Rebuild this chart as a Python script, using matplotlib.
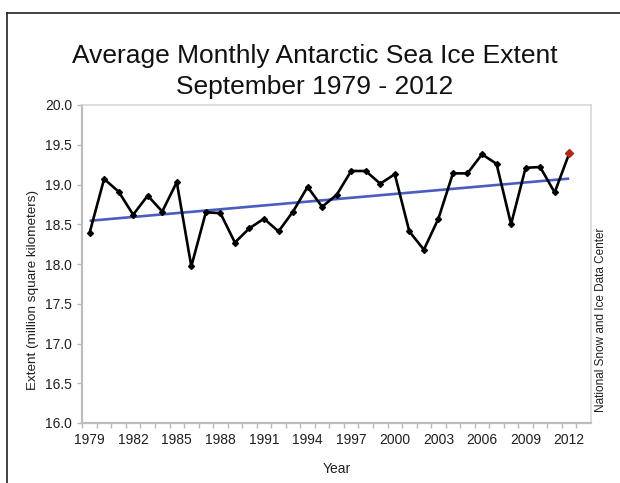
import numpy as np
import matplotlib
matplotlib.use("Agg")
import matplotlib.pyplot as plt
from matplotlib.lines import Line2D

plt.rcParams['font.family'] = ['Liberation Sans', 'DejaVu Sans']

# September Antarctic sea ice extent (million km^2)
years = np.arange(1979, 2013)
extent = [18.39, 19.07, 18.91, 18.62, 18.86, 18.66, 19.03, 17.97, 18.65, 18.64,
          18.27, 18.45, 18.57, 18.41, 18.66, 18.97, 18.72, 18.87, 19.17, 19.17,
          19.01, 19.13, 18.41, 18.18, 18.57, 19.14, 19.14, 19.38, 19.26, 18.50,
          19.21, 19.22, 18.90, 19.39]
year_ticks = list(range(1979, 2013, 3))
y_ticks = np.arange(16.0, 20.01, 0.5)

title_lines = ["Average Monthly Antarctic Sea Ice Extent", "September 1979 - 2012"]
credit = "National Snow and Ice Data Center"

W, H = 620, 483
fig = plt.figure(figsize=(W / 100, H / 100), dpi=100)
ax = fig.add_axes([82.3 / W, 1 - 423 / H, (591 - 82.3) / W, (423 - 105) / H])

# linear trend
slope, intercept = np.polyfit(years, extent, 1)
trend = slope * years + intercept
ax.plot(years, trend, color='#4a5cc0', lw=1.9, solid_capstyle='butt', zorder=2)

# yearly series
ax.plot(years[:-1], extent[:-1], color='black', lw=1.9, marker='D', ms=3.0,
        zorder=3)
ax.plot(years[-2:], extent[-2:], color='black', lw=1.9, zorder=3)
ax.plot(years[-1:], extent[-1:], ls='none', marker='D', ms=4.2,
        color='#b3261e', mec='#b3261e', zorder=4)

ax.set_xlim(1978.5, 2013.5)
ax.set_ylim(16.0, 20.0)

ax.set_xticks(year_ticks)
ax.set_xticklabels([str(y) for y in year_ticks])
ax.set_xticks(np.arange(1978.5, 2013.0, 1.0), minor=True)
ax.set_yticks(y_ticks)
ax.set_yticklabels([f"{v:.1f}" for v in y_ticks])

ax.tick_params(axis='x', which='major', length=0, pad=7, labelsize=10,
               labelcolor='#1f1f1f')
ax.tick_params(axis='x', which='minor', length=3.5, width=1.0,
               color='#b8b8b8', direction='out')
ax.tick_params(axis='y', which='major', length=3.5, width=1.0,
               color='#b8b8b8', pad=4, labelsize=10, labelcolor='#1f1f1f')

for side in ('left', 'bottom'):
    ax.spines[side].set_color('#bdbdbd')
    ax.spines[side].set_linewidth(1.6)
for side in ('top', 'right'):
    ax.spines[side].set_color('#d4d4d4')
    ax.spines[side].set_linewidth(1.1)

ax.set_xlabel("Year", fontsize=10, color='#1f1f1f', labelpad=11)
ax.set_ylabel("Extent (million square kilometers)", fontsize=9.7,
              color='#1f1f1f')
ax.yaxis.set_label_coords((39 - 82.3) / (591 - 82.3), (423 - 290) / (423 - 105))

fig.text(315 / W, 1 - 63 / H, title_lines[0], ha='center', va='baseline',
         fontsize=19, color='#111111')
fig.text(315 / W, 1 - 94 / H, title_lines[1], ha='center', va='baseline',
         fontsize=19, color='#111111')

fig.text(601 / W, 1 - 320 / H, credit, rotation=90, ha='center', va='center',
         fontsize=8.5, color='#1f1f1f')

# outer frame (top and left edges)
fig.add_artist(Line2D([7 / W, 7 / W], [0, 1 - 13 / H], transform=fig.transFigure,
                      color='#222222', lw=1.2))
fig.add_artist(Line2D([7 / W, 1], [1 - 13 / H, 1 - 13 / H],
                      transform=fig.transFigure, color='#222222', lw=1.2))

fig.savefig("out.png", dpi=100)
